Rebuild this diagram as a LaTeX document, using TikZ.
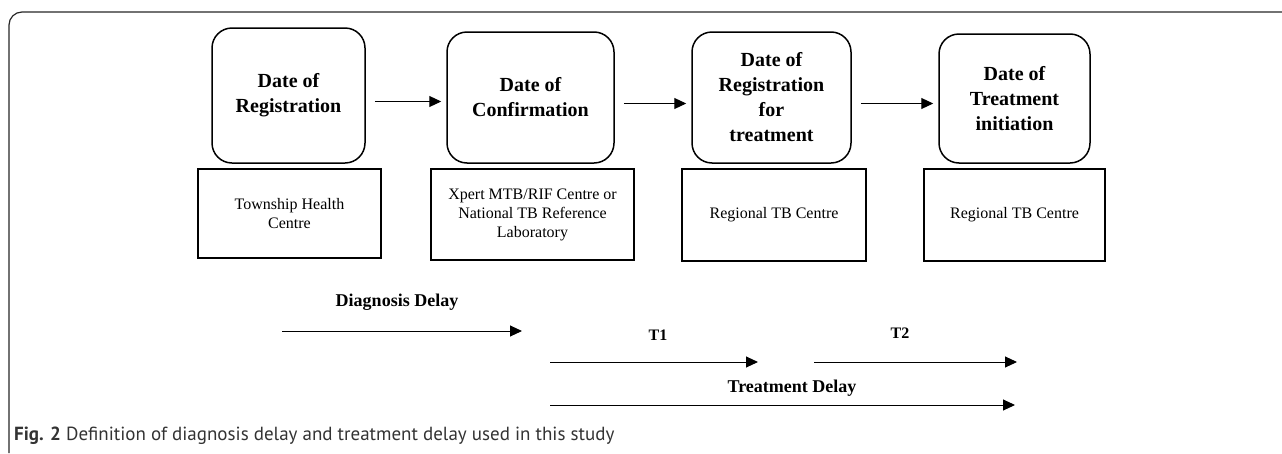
\documentclass[tikz,border=0pt]{standalone}
\usepackage{fontspec}
\setmainfont{Liberation Serif}
\newfontfamily\captionfont{PT Sans}
\usetikzlibrary{arrows.meta}
\usetikzlibrary{positioning}

\begin{document}
\begin{tikzpicture}[x=1pt,y=-1pt,
        datebox/.style={draw, line width=1.5pt, rounded corners=20pt, align=center, inner sep=0pt, font=\fontsize{20}{25}\selectfont\bfseries},
        placebox/.style={draw, line width=1.4pt, align=center, inner sep=0pt, font=\fontsize{16}{19}\selectfont},
        flow/.style={line width=1pt, -{Triangle[length=12pt,width=11pt]}},
        delaylabel/.style={inner sep=0pt, font=\fontsize{18}{20}\selectfont\bfseries}]
        \newcommand{\frameleft}{9}
        \newcommand{\frametop}{12}
        \newcommand{\arrowdrop}{-6pt}
        \newcommand{\delayrowa}{331}
        \newcommand{\delayrowb}{362}
        \newcommand{\delayrowc}{405}
        \useasboundingbox (0,0) rectangle (1282,453);
        % open frame round the figure
        \draw[line width=1.2pt, black!85, rounded corners=13pt] (\frameleft,453) -- (\frameleft,\frametop) -- (1282,\frametop);
        % dates
        \node[datebox, minimum width=153pt, minimum height=135pt] (regdate) at (288.5,95.5) {Date of\\Registration};
        \node[datebox, minimum width=167pt, minimum height=131pt] (confdate) at (530.5,97.5) {Date of\\Confirmation};
        \node[datebox, minimum width=159pt, minimum height=131pt] (treatregdate) at (771.5,97.5) {Date of\\Registration\\for\\treatment};
        \node[datebox, minimum width=151pt, minimum height=129pt] (initdate) at (1014.5,98.5) {Date of\\Treatment\\initiation};
        % places
        \node[placebox, minimum width=183pt, minimum height=89pt] (regplace) at (289.5,213.5) {Township Health\\Centre};
        \node[placebox, minimum width=203pt, minimum height=91pt] (confplace) at (532.5,214.5) {Xpert MTB/RIF Centre or\\National TB Reference\\Laboratory};
        \node[placebox, minimum width=184pt, minimum height=92pt] (treatregplace) at (774,215) {Regional TB Centre};
        \node[placebox, minimum width=181pt, minimum height=92pt] (initplace) at (1014.5,215) {Regional TB Centre};
        % steps
        \draw[flow, shorten <=9pt, shorten >=5pt] ([yshift=\arrowdrop]regdate.east) -- ([yshift=\arrowdrop]regdate.east -| confdate.west);
        \draw[flow, shorten <=9pt, shorten >=5pt] ([yshift=\arrowdrop]confdate.east) -- ([yshift=\arrowdrop]confdate.east -| treatregdate.west);
        \draw[flow, shorten <=9pt, shorten >=5pt] ([yshift=\arrowdrop]treatregdate.east) -- ([yshift=\arrowdrop]treatregdate.east -| initdate.west);
        % delays
        \coordinate (diagstart) at (282,\delayrowa);
        \coordinate (diagend) at (522,\delayrowa);
        \coordinate (tonestart) at (550,\delayrowb);
        \coordinate (toneend) at (758,\delayrowb);
        \coordinate (ttwostart) at (814,\delayrowb);
        \coordinate (ttwoend) at (1017,\delayrowb);
        \coordinate (treatstart) at (550,\delayrowc);
        \coordinate (treatend) at (1015,\delayrowc);
        \node[delaylabel] (diaglabel) at (397,302) {Diagnosis Delay};
        \node[delaylabel, font=\fontsize{16}{18}\selectfont\bfseries] (tonelabel) at (658,335) {T1};
        \node[delaylabel, font=\fontsize{16}{18}\selectfont\bfseries] (ttwolabel) at (900,333) {T2};
        \node[delaylabel] (treatlabel) at (792,388) {Treatment Delay};
        \draw[flow] (diagstart) -- (diagend);
        \draw[flow] (tonestart) -- (toneend);
        \draw[flow] (ttwostart) -- (ttwoend);
        \draw[flow] (treatstart) -- (treatend);
        % caption
        \node[anchor=base west, inner sep=0pt, text=black!80, font=\captionfont\fontsize{19}{22}\selectfont] (figcaption) at (14,440) {\textbf{Fig. 2} Definition of diagnosis delay and treatment delay used in this study};
\end{tikzpicture}
\end{document}
